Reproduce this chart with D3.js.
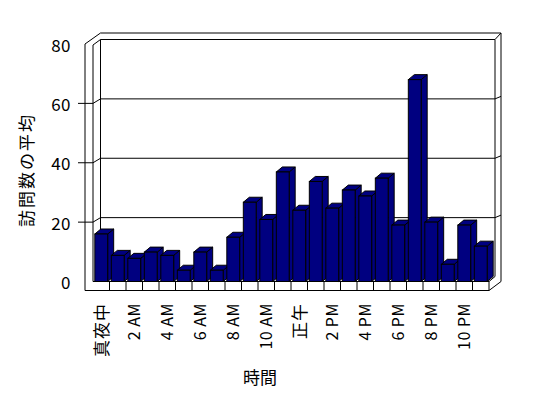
<!DOCTYPE html>
<html>
<head>
<meta charset="utf-8">
<script src="https://cdn.jsdelivr.net/npm/d3@7"></script>
<style>
  body { margin: 0; background: #fff; }
  text { font-family: "Noto Sans CJK JP", "Noto Sans", sans-serif; fill: #000; }
</style>
</head>
<body>
<div id="chartDIV"></div>
<script>
var hours = d3.range(24); //one bar per hour
var visits = [16.0, 8.8, 7.8, 9.9, 8.8, 3.8, 9.9, 3.8, 14.9, 26.7, 20.9, 36.9,
              24.0, 33.7, 24.7, 30.8, 28.8, 34.8, 19.0, 68.0, 20.0, 5.8, 19.0, 11.9];
var hourLabels = ["真夜中", "2 AM", "4 AM", "6 AM", "8 AM", "10 AM",
                  "正午", "2 PM", "4 PM", "6 PM", "8 PM", "10 PM"]; //every second hour
var yTicks = [0, 20, 40, 60, 80];
var yTitle = "訪問数の平均";
var xTitle = "時間";

var WIDTH = 548, HEIGHT = 398;
var WALL_DX = 7.5, WALL_DY = -4.5; //depth of the plot box
var BAR_DX = 6, BAR_DY = -5;       //depth of one bar
var BAR_COLOR = "#000080";

var svg = d3.select("#chartDIV")
    .append("svg")
    .attr("width", WIDTH)
    .attr("height", HEIGHT);

var x = d3.scaleBand()
    .domain(hours)
    .range([93, 489])
    .paddingInner(0.22)
    .paddingOuter(0.11);

var y = d3.scaleLinear()
    .domain([0, 80])
    .range([281.5, 44]);

function line(points) {
  svg.append("path")
    .attr("d", d3.line()(points))
    .attr("fill", "none")
    .attr("stroke", "#000")
    .attr("stroke-width", 1);
}

//walls and floor outline
var x0 = x.range()[0], x1 = x.range()[1];
var yTop = y(80), yBottom = y(0);
line([[85, yTop], [x0 + WALL_DX, yTop - 11]]);
line([[x0 + WALL_DX, yTop - 11], [x1 + 12, yTop - 11]]);
line([[x0, yTop + 1], [x0 + WALL_DX, yTop + WALL_DY]]);
line([[x0 + WALL_DX, yTop + WALL_DY], [x1 + 6, yTop + WALL_DY]]);
line([[x1 + 6, yTop + WALL_DY], [x1 + 12, yTop - 11]]);
line([[85, yTop], [85, yBottom + 9]]);
line([[x0, yTop + 1], [x0, yBottom]]);
line([[x0 + WALL_DX, yTop + WALL_DY], [x0 + WALL_DX, yBottom + WALL_DY]]);
line([[x1 + 6, yTop + WALL_DY], [x1 + 6, yBottom - 5]]);
line([[x1 + 12, yTop - 11], [x1 + 12, yBottom]]);
line([[85, yBottom + 9], [x1, yBottom + 9]]);
line([[x1, yBottom], [x1, yBottom + 9]]);
line([[x1, yBottom + 9], [x1 + 12, yBottom]]);
line([[x1, yBottom], [x1 + 6, yBottom - 5]]);
line([[x0, yBottom], [x1, yBottom]]);

//category dividers on the floor front
hours.forEach(function(h) {
  var xs = x0 + x.step() * h;
  if (h > 0) line([[xs, yBottom], [xs, yBottom + 9]]);
});

//gridlines and ticks
yTicks.filter(function(t) { return t > 0 && t < 80 }).forEach(function(t) {
  var yf = y(t), yb = y(t) + WALL_DY;
  line([[78, yf], [x0, yf], [x0 + WALL_DX, yb], [x1 + 6, yb], [x1 + 12, yb - 2.5]]);
});

//bars: side, top and front face
var bars = svg.selectAll(".bar")
    .data(visits)
    .enter()
    .append("g")
    .attr("class", "bar");

bars.append("polygon")
    .attr("points", function(d, i) {
      var bx = x(i), bw = x.bandwidth(), by = y(d);
      return [[bx + bw, by], [bx + bw + BAR_DX, by + BAR_DY], [bx + bw + BAR_DX, yBottom + BAR_DY], [bx + bw, yBottom]].join(" ");
    });
bars.append("polygon")
    .attr("points", function(d, i) {
      var bx = x(i), bw = x.bandwidth(), by = y(d);
      return [[bx, by], [bx + BAR_DX, by + BAR_DY], [bx + bw + BAR_DX, by + BAR_DY], [bx + bw, by]].join(" ");
    });
bars.append("rect")
    .attr("x", function(d, i) { return x(i) })
    .attr("y", function(d) { return y(d) })
    .attr("width", x.bandwidth())
    .attr("height", function(d) { return yBottom - y(d) });

bars.selectAll("polygon, rect")
    .attr("fill", BAR_COLOR)
    .attr("stroke", "#000")
    .attr("stroke-width", 1);

//axis labels
svg.selectAll(".yLabel")
    .data(yTicks)
    .enter()
    .append("text")
    .attr("class", "yLabel")
    .attr("x", 71)
    .attr("y", function(d) { return y(d) })
    .attr("text-anchor", "end")
    .attr("dominant-baseline", "central")
    .style("font-size", "17px")
    .style("letter-spacing", "0.5px")
    .text(function(d) { return d });

svg.selectAll(".xLabel")
    .data(hourLabels)
    .enter()
    .append("text")
    .attr("class", "xLabel")
    .attr("transform", function(d, i) { return "translate(" + (x(i * 2) + x.bandwidth() / 2 - 1) + ",303) rotate(-90)" })
    .attr("text-anchor", "end")
    .attr("dominant-baseline", "central")
    .style("font-size", function(d) { return /[^\x00-\x7f]/.test(d) ? "17px" : "16px" })
    .style("letter-spacing", function(d) { return /[^\x00-\x7f]/.test(d) ? "1px" : "0.5px" })
    .text(function(d) { return d });

svg.append("text")
    .attr("transform", "translate(25,170) rotate(-90)")
    .attr("text-anchor", "middle")
    .attr("dominant-baseline", "central")
    .style("font-size", "17px")
    .style("letter-spacing", "2px")
    .text(yTitle);

svg.append("text")
    .attr("x", 260)
    .attr("y", 376)
    .attr("text-anchor", "middle")
    .attr("dominant-baseline", "central")
    .style("font-size", "17px")
    .text(xTitle);
</script>
</body>
</html>
